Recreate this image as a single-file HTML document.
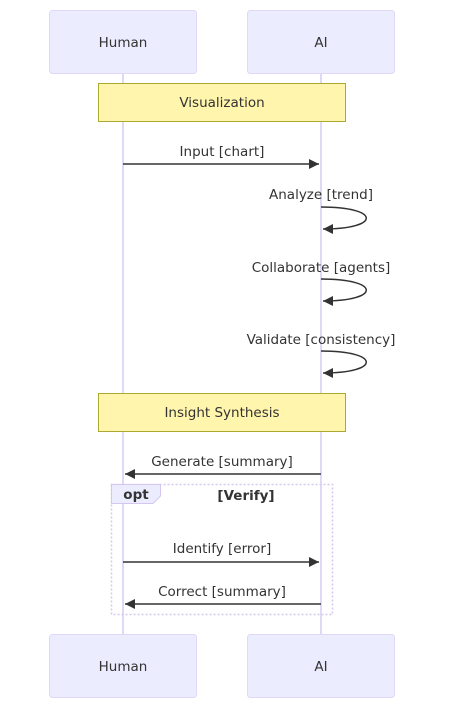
<!DOCTYPE html>
<html><head><meta charset="utf-8"><style>body{margin:0;background:#fff}text{font-family:"DejaVu Sans",sans-serif;font-size:13.5px;fill:#333}</style></head>
<body>
<svg width="453" height="722" xmlns="http://www.w3.org/2000/svg">
<defs><marker id="a" markerWidth="12" markerHeight="12" refX="10" refY="5" orient="auto" markerUnits="userSpaceOnUse"><path d="M0,0 L10,5 L0,10 z" fill="#333"/></marker></defs>
<line x1="123" y1="73" x2="123" y2="634" stroke="#e0d8f6" stroke-width="2"/>
<line x1="321" y1="73" x2="321" y2="634" stroke="#e0d8f6" stroke-width="2"/>
<g fill="#ececff" stroke="#e0d8f6" stroke-width="1">
<rect x="49.5" y="10.5" width="147" height="63" rx="3"/><rect x="247.5" y="10.5" width="147" height="63" rx="3"/>
<rect x="49.5" y="634.5" width="147" height="63" rx="3"/><rect x="247.5" y="634.5" width="147" height="63" rx="3"/>
</g>
<g text-anchor="middle">
<text x="123" y="47">Human</text><text x="321" y="47">AI</text>
<text x="123" y="671">Human</text><text x="321" y="671">AI</text>
</g>
<rect x="98.5" y="83.5" width="247" height="38" fill="#fff5ad" stroke="#aaaa33"/>
<text x="222" y="107" text-anchor="middle">Visualization</text>
<rect x="98.5" y="393.5" width="247" height="38" fill="#fff5ad" stroke="#aaaa33"/>
<text x="222" y="417" text-anchor="middle">Insight Synthesis</text>
<g stroke="#333" stroke-width="1.5" fill="none">
<line x1="123" y1="164" x2="319" y2="164" marker-end="url(#a)"/>
<path d="M321,207 C381,207 381,229 323,229" marker-end="url(#a)"/>
<path d="M321,279 C381,279 381,301 323,301" marker-end="url(#a)"/>
<path d="M321,351 C381,351 381,373 323,373" marker-end="url(#a)"/>
<line x1="321" y1="474" x2="125" y2="474" marker-end="url(#a)"/>
<line x1="123" y1="562" x2="319" y2="562" marker-end="url(#a)"/>
<line x1="321" y1="604" x2="125" y2="604" marker-end="url(#a)"/>
</g>
<g text-anchor="middle">
<text x="222" y="156">Input [chart]</text>
<text x="321" y="199">Analyze [trend]</text>
<text x="321" y="272">Collaborate [agents]</text>
<text x="321" y="344">Validate [consistency]</text>
<text x="222" y="466">Generate [summary]</text>
<text x="222" y="553">Identify [error]</text>
<text x="222" y="596">Correct [summary]</text>
</g>
<rect x="111.5" y="484.5" width="221" height="130" fill="none" stroke="#d4c8f0" stroke-width="1.5" stroke-dasharray="2,2"/>
<path d="M111.5,484.5 H160.5 V496 L153,503.5 H111.5 Z" fill="#ececff" stroke="#d4c8f0"/>
<text x="136" y="499" text-anchor="middle" style="font-weight:bold">opt</text>
<text x="246" y="500" text-anchor="middle" style="font-weight:bold">[Verify]</text>
</svg>
</body></html>
